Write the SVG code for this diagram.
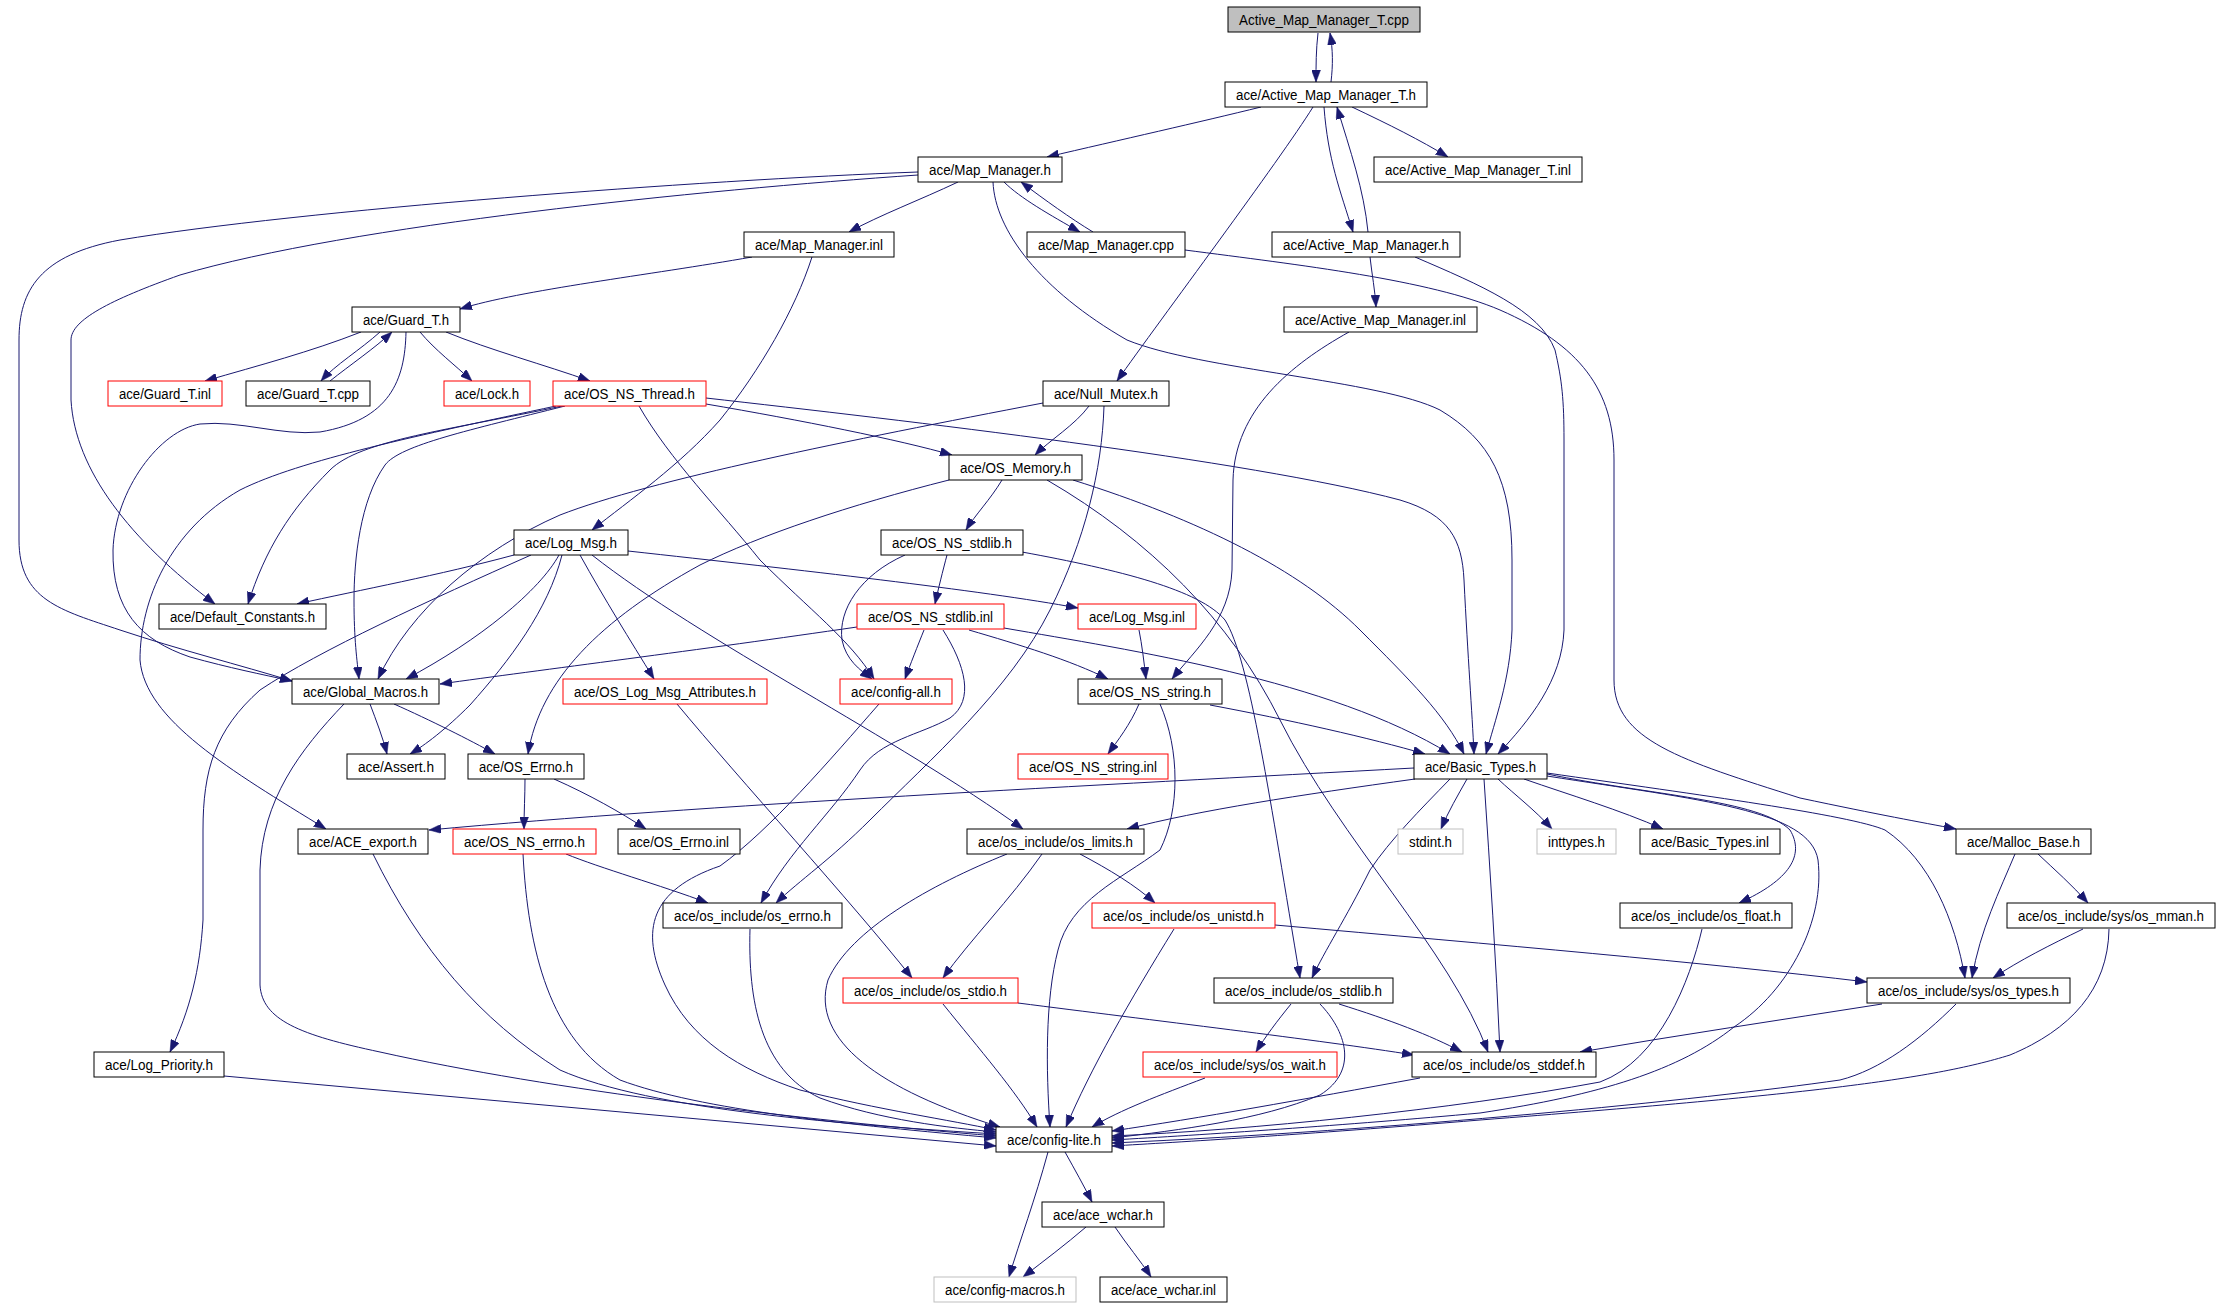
<svg xmlns="http://www.w3.org/2000/svg" width="2219" height="1307" viewBox="0 0 2219 1307">
<style>
.n rect{fill:#fff;stroke:#000;stroke-width:1}
.n.r rect{stroke:#f00}
.n.g rect{stroke:#bfbfbf}
.n.root rect{fill:#bfbfbf}
.n text{font-family:"Liberation Sans",Arial,sans-serif;font-size:14px;text-anchor:middle;fill:#000}
#edges path{fill:none;stroke:#191970;stroke-width:1;marker-end:url(#a)}
</style>
<defs>
<marker id="a" markerUnits="userSpaceOnUse" markerWidth="12" markerHeight="9" refX="12" refY="4.5" orient="auto"><path d="M0,0 L12,4.5 L0,9 z" fill="#191970" stroke="#191970" stroke-width="0.5"/></marker>
</defs>
<rect width="2219" height="1307" fill="#fff"/>
<g id="edges">
<path d="M1318,33 C1316,50 1316,65 1316,82"/>
<path d="M1331,82 C1333,65 1333,50 1330,33"/>
<path d="M1261,107 C1200,122 1120,140 1047,157"/>
<path d="M1313,107 C1280,160 1160,320 1117,381"/>
<path d="M1324,107 C1328,160 1340,190 1353,232"/>
<path d="M1368,232 C1364,190 1350,150 1337,107"/>
<path d="M1352,107 C1390,125 1420,140 1448,157"/>
<path d="M958,182 C920,200 880,215 849,232"/>
<path d="M1004,182 C1020,198 1050,215 1080,232"/>
<path d="M1093,232 C1070,218 1045,200 1021,182"/>
<path d="M918,172 C700,180 300,210 120,240 C40,255 19,290 19,340 L19,540 C19,600 60,610 120,630 C180,650 240,665 292,681"/>
<path d="M918,175 C700,190 350,225 180,275 C110,300 71,320 71,340 L71,400 C75,470 130,540 215,604"/>
<path d="M993,182 C995,230 1040,290 1127,340 C1200,370 1380,380 1440,410 C1490,440 1512,480 1512,560 L1512,630 C1510,680 1495,720 1486,754"/>
<path d="M752,257 C650,275 520,290 460,309"/>
<path d="M812,257 C795,310 760,370 720,420 C680,465 630,500 592,530"/>
<path d="M1185,250 C1300,265 1430,280 1500,310 C1580,345 1614,390 1614,460 L1614,680 C1614,740 1680,760 1800,798 C1880,815 1920,822 1956,829"/>
<path d="M1370,257 C1372,275 1375,290 1376,307"/>
<path d="M1415,257 C1480,285 1540,310 1555,350 C1562,380 1564,400 1564,440 L1564,630 C1562,680 1530,720 1498,754"/>
<path d="M1349,332 C1290,365 1235,410 1233,480 L1232,570 C1230,620 1195,650 1172,679"/>
<path d="M361,332 C310,352 260,365 205,381"/>
<path d="M380,332 C360,350 335,365 321,381"/>
<path d="M330,381 C350,365 375,348 392,332"/>
<path d="M420,332 C435,350 455,365 472,381"/>
<path d="M446,332 C490,350 545,365 590,381"/>
<path d="M406,332 C405,380 390,420 320,432 C280,436 240,420 200,424 C160,430 115,490 113,550 C112,610 140,640 190,657 C230,668 260,674 292,681"/>
<path d="M562,406 C450,430 360,440 330,470 C290,510 265,550 248,604"/>
<path d="M565,406 C470,430 400,445 385,465 C360,500 354,560 354,600 C354,640 357,660 359,679"/>
<path d="M556,406 C420,435 300,460 240,490 C170,530 140,600 140,660 C145,720 230,770 326,829"/>
<path d="M639,406 C670,460 720,510 760,560 C810,610 850,640 874,679"/>
<path d="M706,404 C800,420 900,440 952,455"/>
<path d="M706,398 C900,420 1250,460 1400,500 C1450,515 1462,540 1464,580 C1468,660 1472,710 1474,754"/>
<path d="M1089,406 C1075,425 1050,440 1035,455"/>
<path d="M1043,403 C850,440 650,480 560,515 C480,550 410,610 378,679"/>
<path d="M1104,406 C1102,470 1085,540 1050,610 C1010,690 930,760 870,820 C830,860 800,880 776,903"/>
<path d="M949,480 C850,505 760,535 700,565 C600,620 540,680 528,754"/>
<path d="M1002,480 C990,500 975,515 966,530"/>
<path d="M1073,480 C1200,520 1300,570 1360,630 C1410,680 1445,715 1464,754"/>
<path d="M1047,480 C1150,540 1230,620 1280,720 C1340,840 1450,950 1488,1052"/>
<path d="M514,555 C440,575 360,590 297,604"/>
<path d="M559,555 C540,590 480,640 406,679"/>
<path d="M562,555 C548,610 510,660 470,705 C445,730 425,745 410,754"/>
<path d="M531,555 C430,600 320,650 260,690 C215,730 203,770 203,830 L203,920 C200,970 190,1010 170,1052"/>
<path d="M580,555 C605,600 630,640 654,679"/>
<path d="M592,555 C700,640 900,740 1023,829"/>
<path d="M628,551 C800,570 980,590 1078,608"/>
<path d="M947,555 C943,570 938,590 935,604"/>
<path d="M905,555 C860,575 838,610 842,640 C846,660 860,670 872,679"/>
<path d="M1022,552 C1120,570 1200,590 1225,620 C1250,660 1270,800 1300,978"/>
<path d="M924,630 C918,645 910,665 905,679"/>
<path d="M969,630 C1020,645 1070,660 1108,679"/>
<path d="M1004,628 C1130,650 1330,680 1450,754"/>
<path d="M857,627 C700,650 540,670 440,684"/>
<path d="M943,630 C965,665 975,700 950,718 C920,735 880,740 860,770 C830,815 790,850 761,903"/>
<path d="M1139,630 C1142,645 1144,662 1146,679"/>
<path d="M370,704 C376,720 383,738 387,754"/>
<path d="M394,704 C430,720 470,740 495,754"/>
<path d="M344,704 C300,750 262,800 260,870 L260,985 C262,1020 300,1035 380,1052 C550,1090 800,1120 996,1136"/>
<path d="M677,704 C740,780 850,900 912,978"/>
<path d="M879,704 C830,760 770,830 720,866 C650,890 640,930 665,985 C690,1040 740,1070 800,1090 C880,1110 950,1120 996,1130"/>
<path d="M1139,704 C1130,725 1118,740 1108,754"/>
<path d="M1210,705 C1290,720 1370,738 1425,754"/>
<path d="M1160,704 C1180,750 1180,810 1160,850 C1120,880 1070,900 1058,950 C1045,1000 1046,1070 1050,1127"/>
<path d="M525,779 C525,795 524,812 524,829"/>
<path d="M554,779 C590,795 620,812 646,829"/>
<path d="M1414,768 C1100,785 700,805 429,830"/>
<path d="M1415,779 C1300,795 1200,810 1127,829"/>
<path d="M1467,779 C1458,795 1448,812 1441,829"/>
<path d="M1498,779 C1515,795 1535,810 1552,829"/>
<path d="M1524,779 C1570,795 1620,810 1663,829"/>
<path d="M1547,774 C1650,795 1760,800 1790,830 C1805,855 1790,880 1739,903"/>
<path d="M1547,776 C1700,800 1810,810 1818,860 C1825,920 1790,990 1734,1027 C1680,1070 1600,1095 1480,1113 C1350,1125 1200,1135 1112,1140"/>
<path d="M1547,773 C1700,795 1850,815 1885,830 C1930,860 1955,920 1965,978"/>
<path d="M1450,779 C1420,810 1390,840 1370,870 C1345,920 1325,950 1312,978"/>
<path d="M1484,779 C1490,870 1496,960 1500,1052"/>
<path d="M1080,854 C1110,870 1135,885 1155,903"/>
<path d="M1042,854 C1010,900 970,940 943,978"/>
<path d="M1007,854 C930,885 850,930 828,980 C810,1040 880,1090 1000,1127"/>
<path d="M566,854 C600,868 660,885 708,903"/>
<path d="M523,854 C528,950 550,1040 620,1080 C700,1110 850,1125 996,1138"/>
<path d="M373,854 C420,950 480,1020 560,1070 C650,1110 850,1125 996,1134"/>
<path d="M224,1076 L996,1146"/>
<path d="M750,929 C748,1000 760,1070 820,1098 C880,1120 950,1128 996,1132"/>
<path d="M943,1004 C980,1050 1015,1090 1037,1127"/>
<path d="M1018,1003 C1150,1020 1320,1040 1414,1055"/>
<path d="M1174,929 C1130,1000 1090,1070 1066,1127"/>
<path d="M1275,925 C1500,945 1700,962 1867,982"/>
<path d="M1291,1004 C1278,1020 1265,1037 1256,1052"/>
<path d="M1339,1004 C1390,1020 1430,1035 1462,1052"/>
<path d="M1320,1004 C1345,1030 1360,1070 1320,1095 C1260,1120 1180,1130 1112,1138"/>
<path d="M1205,1078 C1160,1095 1120,1110 1092,1127"/>
<path d="M1420,1078 C1300,1100 1200,1118 1112,1131"/>
<path d="M1702,929 C1690,980 1660,1060 1600,1082 C1450,1110 1250,1130 1112,1136"/>
<path d="M1882,1004 C1780,1020 1680,1035 1580,1052"/>
<path d="M1956,1004 C1920,1040 1880,1070 1840,1080 C1700,1100 1400,1130 1112,1143"/>
<path d="M2109,929 C2108,990 2070,1030 2010,1055 C1930,1080 1800,1095 1480,1120 C1300,1135 1180,1142 1112,1146"/>
<path d="M2083,929 C2050,945 2020,960 1993,978"/>
<path d="M2015,854 C2000,890 1980,930 1972,978"/>
<path d="M2038,854 C2055,870 2072,885 2088,903"/>
<path d="M1065,1152 C1075,1170 1084,1186 1092,1202"/>
<path d="M1048,1152 C1035,1200 1020,1240 1009,1277"/>
<path d="M1086,1227 C1065,1245 1045,1260 1023,1277"/>
<path d="M1115,1227 C1127,1245 1140,1260 1151,1277"/>
</g>
<g id="n0" class="n root"><rect x="1228" y="7" width="192" height="25"/><text x="1324" y="25" textLength="170" lengthAdjust="spacingAndGlyphs">Active_Map_Manager_T.cpp</text></g>
<g id="n1" class="n"><rect x="1225" y="82" width="202" height="25"/><text x="1326" y="100" textLength="180" lengthAdjust="spacingAndGlyphs">ace/Active_Map_Manager_T.h</text></g>
<g id="n2" class="n"><rect x="918" y="157" width="144" height="25"/><text x="990" y="175" textLength="122" lengthAdjust="spacingAndGlyphs">ace/Map_Manager.h</text></g>
<g id="n3" class="n"><rect x="1374" y="157" width="208" height="25"/><text x="1478" y="175" textLength="186" lengthAdjust="spacingAndGlyphs">ace/Active_Map_Manager_T.inl</text></g>
<g id="n4" class="n"><rect x="744" y="232" width="150" height="25"/><text x="819" y="250" textLength="128" lengthAdjust="spacingAndGlyphs">ace/Map_Manager.inl</text></g>
<g id="n5" class="n"><rect x="1027" y="232" width="158" height="25"/><text x="1106" y="250" textLength="136" lengthAdjust="spacingAndGlyphs">ace/Map_Manager.cpp</text></g>
<g id="n6" class="n"><rect x="1272" y="232" width="188" height="25"/><text x="1366" y="250" textLength="166" lengthAdjust="spacingAndGlyphs">ace/Active_Map_Manager.h</text></g>
<g id="n7" class="n"><rect x="1284" y="307" width="193" height="25"/><text x="1380.5" y="325" textLength="171" lengthAdjust="spacingAndGlyphs">ace/Active_Map_Manager.inl</text></g>
<g id="n8" class="n"><rect x="352" y="307" width="108" height="25"/><text x="406" y="325" textLength="86" lengthAdjust="spacingAndGlyphs">ace/Guard_T.h</text></g>
<g id="n9" class="n r"><rect x="108" y="381" width="114" height="25"/><text x="165" y="399" textLength="92" lengthAdjust="spacingAndGlyphs">ace/Guard_T.inl</text></g>
<g id="n10" class="n"><rect x="246" y="381" width="124" height="25"/><text x="308" y="399" textLength="102" lengthAdjust="spacingAndGlyphs">ace/Guard_T.cpp</text></g>
<g id="n11" class="n r"><rect x="444" y="381" width="86" height="25"/><text x="487" y="399" textLength="64" lengthAdjust="spacingAndGlyphs">ace/Lock.h</text></g>
<g id="n12" class="n r"><rect x="553" y="381" width="153" height="25"/><text x="629.5" y="399" textLength="131" lengthAdjust="spacingAndGlyphs">ace/OS_NS_Thread.h</text></g>
<g id="n13" class="n"><rect x="1043" y="381" width="126" height="25"/><text x="1106" y="399" textLength="104" lengthAdjust="spacingAndGlyphs">ace/Null_Mutex.h</text></g>
<g id="n14" class="n"><rect x="949" y="455" width="133" height="25"/><text x="1015.5" y="473" textLength="111" lengthAdjust="spacingAndGlyphs">ace/OS_Memory.h</text></g>
<g id="n15" class="n"><rect x="514" y="530" width="114" height="25"/><text x="571" y="548" textLength="92" lengthAdjust="spacingAndGlyphs">ace/Log_Msg.h</text></g>
<g id="n16" class="n"><rect x="881" y="530" width="142" height="25"/><text x="952" y="548" textLength="120" lengthAdjust="spacingAndGlyphs">ace/OS_NS_stdlib.h</text></g>
<g id="n17" class="n"><rect x="159" y="604" width="167" height="25"/><text x="242.5" y="622" textLength="145" lengthAdjust="spacingAndGlyphs">ace/Default_Constants.h</text></g>
<g id="n18" class="n r"><rect x="857" y="604" width="147" height="25"/><text x="930.5" y="622" textLength="125" lengthAdjust="spacingAndGlyphs">ace/OS_NS_stdlib.inl</text></g>
<g id="n19" class="n r"><rect x="1078" y="604" width="118" height="25"/><text x="1137" y="622" textLength="96" lengthAdjust="spacingAndGlyphs">ace/Log_Msg.inl</text></g>
<g id="n20" class="n"><rect x="292" y="679" width="147" height="25"/><text x="365.5" y="697" textLength="125" lengthAdjust="spacingAndGlyphs">ace/Global_Macros.h</text></g>
<g id="n21" class="n r"><rect x="563" y="679" width="204" height="25"/><text x="665" y="697" textLength="182" lengthAdjust="spacingAndGlyphs">ace/OS_Log_Msg_Attributes.h</text></g>
<g id="n22" class="n r"><rect x="840" y="679" width="112" height="25"/><text x="896" y="697" textLength="90" lengthAdjust="spacingAndGlyphs">ace/config-all.h</text></g>
<g id="n23" class="n"><rect x="1078" y="679" width="144" height="25"/><text x="1150" y="697" textLength="122" lengthAdjust="spacingAndGlyphs">ace/OS_NS_string.h</text></g>
<g id="n24" class="n"><rect x="347" y="754" width="98" height="25"/><text x="396" y="772" textLength="76" lengthAdjust="spacingAndGlyphs">ace/Assert.h</text></g>
<g id="n25" class="n"><rect x="468" y="754" width="116" height="25"/><text x="526" y="772" textLength="94" lengthAdjust="spacingAndGlyphs">ace/OS_Errno.h</text></g>
<g id="n26" class="n r"><rect x="1018" y="754" width="150" height="25"/><text x="1093" y="772" textLength="128" lengthAdjust="spacingAndGlyphs">ace/OS_NS_string.inl</text></g>
<g id="n27" class="n"><rect x="1414" y="754" width="133" height="25"/><text x="1480.5" y="772" textLength="111" lengthAdjust="spacingAndGlyphs">ace/Basic_Types.h</text></g>
<g id="n28" class="n"><rect x="298" y="829" width="130" height="25"/><text x="363" y="847" textLength="108" lengthAdjust="spacingAndGlyphs">ace/ACE_export.h</text></g>
<g id="n29" class="n r"><rect x="453" y="829" width="143" height="25"/><text x="524.5" y="847" textLength="121" lengthAdjust="spacingAndGlyphs">ace/OS_NS_errno.h</text></g>
<g id="n30" class="n"><rect x="618" y="829" width="122" height="25"/><text x="679" y="847" textLength="100" lengthAdjust="spacingAndGlyphs">ace/OS_Errno.inl</text></g>
<g id="n31" class="n"><rect x="967" y="829" width="177" height="25"/><text x="1055.5" y="847" textLength="155" lengthAdjust="spacingAndGlyphs">ace/os_include/os_limits.h</text></g>
<g id="n32" class="n g"><rect x="1398" y="829" width="65" height="25"/><text x="1430.5" y="847" textLength="43" lengthAdjust="spacingAndGlyphs">stdint.h</text></g>
<g id="n33" class="n g"><rect x="1537" y="829" width="79" height="25"/><text x="1576.5" y="847" textLength="57" lengthAdjust="spacingAndGlyphs">inttypes.h</text></g>
<g id="n34" class="n"><rect x="1640" y="829" width="140" height="25"/><text x="1710" y="847" textLength="118" lengthAdjust="spacingAndGlyphs">ace/Basic_Types.inl</text></g>
<g id="n35" class="n"><rect x="1956" y="829" width="135" height="25"/><text x="2023.5" y="847" textLength="113" lengthAdjust="spacingAndGlyphs">ace/Malloc_Base.h</text></g>
<g id="n36" class="n"><rect x="663" y="903" width="179" height="25"/><text x="752.5" y="921" textLength="157" lengthAdjust="spacingAndGlyphs">ace/os_include/os_errno.h</text></g>
<g id="n37" class="n r"><rect x="1092" y="903" width="183" height="25"/><text x="1183.5" y="921" textLength="161" lengthAdjust="spacingAndGlyphs">ace/os_include/os_unistd.h</text></g>
<g id="n38" class="n"><rect x="1620" y="903" width="172" height="25"/><text x="1706" y="921" textLength="150" lengthAdjust="spacingAndGlyphs">ace/os_include/os_float.h</text></g>
<g id="n39" class="n"><rect x="2007" y="903" width="208" height="25"/><text x="2111" y="921" textLength="186" lengthAdjust="spacingAndGlyphs">ace/os_include/sys/os_mman.h</text></g>
<g id="n40" class="n r"><rect x="843" y="978" width="175" height="25"/><text x="930.5" y="996" textLength="153" lengthAdjust="spacingAndGlyphs">ace/os_include/os_stdio.h</text></g>
<g id="n41" class="n"><rect x="1214" y="978" width="179" height="25"/><text x="1303.5" y="996" textLength="157" lengthAdjust="spacingAndGlyphs">ace/os_include/os_stdlib.h</text></g>
<g id="n42" class="n"><rect x="1867" y="978" width="203" height="25"/><text x="1968.5" y="996" textLength="181" lengthAdjust="spacingAndGlyphs">ace/os_include/sys/os_types.h</text></g>
<g id="n43" class="n"><rect x="94" y="1052" width="130" height="25"/><text x="159" y="1070" textLength="108" lengthAdjust="spacingAndGlyphs">ace/Log_Priority.h</text></g>
<g id="n44" class="n r"><rect x="1143" y="1052" width="194" height="25"/><text x="1240" y="1070" textLength="172" lengthAdjust="spacingAndGlyphs">ace/os_include/sys/os_wait.h</text></g>
<g id="n45" class="n"><rect x="1412" y="1052" width="184" height="25"/><text x="1504" y="1070" textLength="162" lengthAdjust="spacingAndGlyphs">ace/os_include/os_stddef.h</text></g>
<g id="n46" class="n"><rect x="996" y="1127" width="116" height="25"/><text x="1054" y="1145" textLength="94" lengthAdjust="spacingAndGlyphs">ace/config-lite.h</text></g>
<g id="n47" class="n"><rect x="1042" y="1202" width="122" height="25"/><text x="1103" y="1220" textLength="100" lengthAdjust="spacingAndGlyphs">ace/ace_wchar.h</text></g>
<g id="n48" class="n g"><rect x="934" y="1277" width="142" height="25"/><text x="1005" y="1295" textLength="120" lengthAdjust="spacingAndGlyphs">ace/config-macros.h</text></g>
<g id="n49" class="n"><rect x="1100" y="1277" width="127" height="25"/><text x="1163.5" y="1295" textLength="105" lengthAdjust="spacingAndGlyphs">ace/ace_wchar.inl</text></g>
</svg>
